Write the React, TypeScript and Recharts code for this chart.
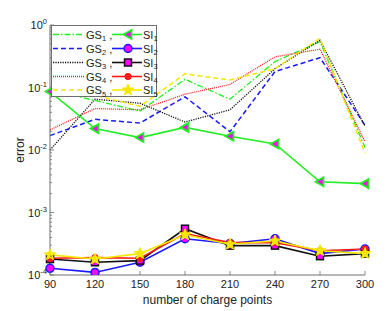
import React from 'react';
import { LineChart, Line, XAxis, YAxis } from 'recharts';

const chargePoints = [90, 120, 150, 180, 210, 240, 270, 300];
const gs1 = [0.09, 0.062, 0.042, 0.135, 0.065, 0.26, 0.54, 0.011];
const gs2 = [0.017, 0.031, 0.027, 0.071, 0.0196, 0.18, 0.3, 0.025];
const gs3 = [0.01, 0.065, 0.056, 0.028, 0.044, 0.2, 0.57, 0.024];
const gs4 = [0.021, 0.046, 0.044, 0.078, 0.112, 0.31, 0.41, 0.0135];
const gs5 = [0.1, 0.075, 0.05, 0.165, 0.132, 0.2, 0.61, 0.0089];
const si1 = [0.086, 0.022, 0.0158, 0.023, 0.0166, 0.0125, 0.0031, 0.0029];
const si2 = [0.000128, 0.00011, 0.00016, 0.00038, 0.00032, 0.00038, 0.00022, 0.00026];
const si3 = [0.00018, 0.00016, 0.00017, 0.00055, 0.000295, 0.000295, 0.0002, 0.00022];
const si4 = [0.000185, 0.00019, 0.000185, 0.00046, 0.00033, 0.00033, 0.000245, 0.00026];
const si5 = [0.00021, 0.00018, 0.00022, 0.00044, 0.00031, 0.00035, 0.000245, 0.00022];

const majorTicks = [1e-4, 1e-3, 1e-2, 1e-1, 1];
const minorTicks: number[] = [];
[-4, -3, -2, -1].forEach((d) => {
  for (let k = 2; k <= 9; k++) minorTicks.push(k * Math.pow(10, d));
});
const yTicks = [...majorTicks, ...minorTicks].sort((a, b) => a - b);

const data = chargePoints.map((x, i) => ({
  x,
  gs1: gs1[i], gs2: gs2[i], gs3: gs3[i], gs4: gs4[i], gs5: gs5[i],
  si1: si1[i], si2: si2[i], si3: si3[i], si4: si4[i], si5: si5[i],
}));

const GREEN = '#22ee22';
const BLUE = '#1a1aff';
const BLACK = '#111111';
const RED = '#ff1a1a';
const YELLOW = '#f5e800';
const MAGENTA = '#ff00ff';
const AXIS = '#6e6e6e';
const FONT = 'Liberation Sans, Arial, Helvetica, sans-serif';

type MarkerKind = 'triL' | 'circ' | 'sq' | 'dot' | 'star';

function Marker({ kind, cx, cy }: { kind: MarkerKind; cx: number; cy: number }) {
  if (cx == null || cy == null || isNaN(cx) || isNaN(cy)) return <g />;
  if (kind === 'triL') {
    return (
      <polygon
        points={`${cx - 4.5},${cy} ${cx + 3.5},${cy - 4.5} ${cx + 3.5},${cy + 4.5}`}
        fill={MAGENTA}
        stroke={GREEN}
        strokeWidth={1.8}
      />
    );
  }
  if (kind === 'circ') {
    return <circle cx={cx} cy={cy} r={4} fill={MAGENTA} stroke={BLUE} strokeWidth={1.5} />;
  }
  if (kind === 'sq') {
    return <rect x={cx - 3.5} y={cy - 3.5} width={7} height={7} fill={MAGENTA} stroke={BLACK} strokeWidth={1.5} />;
  }
  if (kind === 'dot') {
    return <circle cx={cx} cy={cy} r={3.2} fill={RED} stroke={RED} strokeWidth={1} />;
  }
  const pts: string[] = [];
  for (let i = 0; i < 10; i++) {
    const r = i % 2 === 0 ? 6 : 2.6;
    const a = -Math.PI / 2 + (i * Math.PI) / 5;
    pts.push(`${cx + r * Math.cos(a)},${cy + r * Math.sin(a)}`);
  }
  return <polygon points={pts.join(' ')} fill={YELLOW} stroke={YELLOW} strokeWidth={1} />;
}

const gsSeries = [
  { key: 'gs1', color: GREEN, dash: '6 2 1.5 2', width: 1.3 },
  { key: 'gs2', color: BLUE, dash: '5 3', width: 1.5 },
  { key: 'gs3', color: BLACK, dash: '1.2 1.2', width: 1.3 },
  { key: 'gs4', color: RED, dash: '1 1', width: 1.3 },
  { key: 'gs5', color: YELLOW, dash: '5 3', width: 1.5 },
];
const siSeries: { key: string; color: string; marker: MarkerKind }[] = [
  { key: 'si1', color: GREEN, marker: 'triL' },
  { key: 'si2', color: BLUE, marker: 'circ' },
  { key: 'si3', color: BLACK, marker: 'sq' },
  { key: 'si4', color: RED, marker: 'dot' },
  { key: 'si5', color: YELLOW, marker: 'star' },
];

const LeftTick = (props: any) => {
  const { x, y, payload } = props;
  const v = payload.value;
  const exp = Math.round(Math.log10(v));
  const isMajor = Math.abs(Math.log10(v) - exp) < 1e-6;
  return (
    <g>
      <line x1={x} x2={x + (isMajor ? 4 : 2)} y1={y} y2={y} stroke={AXIS} strokeWidth={0.8} />
      {isMajor && (
        <text x={x - 3} y={y + 4} textAnchor="end" fontSize={11} fill="#222" fontFamily={FONT}>
          10
          <tspan fontSize={7.5} dy={-5}>{exp}</tspan>
        </text>
      )}
    </g>
  );
};

const RightTick = (props: any) => {
  const { x, y, payload } = props;
  const v = payload.value;
  const exp = Math.round(Math.log10(v));
  const isMajor = Math.abs(Math.log10(v) - exp) < 1e-6;
  return <line x1={x} x2={x - (isMajor ? 4 : 2)} y1={y} y2={y} stroke={AXIS} strokeWidth={0.8} />;
};

const BottomTick = (props: any) => {
  const { x, y, payload } = props;
  return (
    <g>
      <line x1={x} x2={x} y1={y} y2={y - 4} stroke={AXIS} strokeWidth={0.8} />
      <text x={x} y={y + 13} textAnchor="middle" fontSize={11} fill="#222" fontFamily={FONT}>
        {payload.value}
      </text>
    </g>
  );
};

const TopTick = (props: any) => {
  const { x, y } = props;
  return <line x1={x} x2={x} y1={y} y2={y + 4} stroke={AXIS} strokeWidth={0.8} />;
};

const LegendBox = () => {
  const rowY = [9.5, 23.5, 37.5, 51.5, 65];
  return (
    <svg width={106} height={78} style={{ display: 'block', overflow: 'visible' }}>
      <rect x={0.5} y={0.5} width={105} height={71} fill="#fff" stroke={AXIS} strokeWidth={1} />
      {gsSeries.map((s, i) => (
        <g key={s.key}>
          <line x1={2} x2={33} y1={rowY[i]} y2={rowY[i]} stroke={s.color} strokeWidth={s.width} strokeDasharray={s.dash} />
          <text x={35} y={rowY[i] + 4} fontSize={11} fill="#222" fontFamily={FONT}>
            GS<tspan fontSize={7.5} dy={2.5}>{i + 1}</tspan>
            <tspan dy={-2.5}> ,</tspan>
          </text>
        </g>
      ))}
      {siSeries.map((s, i) => (
        <g key={s.key}>
          <line x1={61} x2={91} y1={rowY[i]} y2={rowY[i]} stroke={s.color} strokeWidth={1.6} />
          <Marker kind={s.marker} cx={77} cy={rowY[i]} />
          <text x={92} y={rowY[i] + 4} fontSize={11} fill="#222" fontFamily={FONT}>
            SI<tspan fontSize={7.5} dy={2.5}>{i + 1}</tspan>
          </text>
        </g>
      ))}
    </svg>
  );
};

export default function App() {
  return (
    <div style={{ position: 'absolute', left: 0, top: 0, width: 386, height: 311, background: '#fff' }}>
      <LineChart width={386} height={311} data={data} margin={{ top: 25, right: 21, bottom: 0, left: 0 }}>
        <XAxis
          xAxisId="b"
          dataKey="x"
          type="number"
          domain={[90, 300]}
          ticks={chargePoints}
          interval={0}
          height={36}
          tickSize={0}
          tickMargin={0}
          tick={<BottomTick />}
          axisLine={{ stroke: AXIS, strokeWidth: 1 }}
          label={{
            value: 'number of charge points',
            position: 'insideBottom',
            offset: 7,
            fontSize: 12,
            fill: '#222',
            fontFamily: FONT,
          }}
        />
        <XAxis
          xAxisId="t"
          orientation="top"
          dataKey="x"
          type="number"
          domain={[90, 300]}
          ticks={chargePoints}
          interval={0}
          height={0}
          tickSize={0}
          tickMargin={0}
          tick={<TopTick />}
          axisLine={{ stroke: AXIS, strokeWidth: 1 }}
        />
        <YAxis
          yAxisId="l"
          type="number"
          scale="log"
          domain={[1e-4, 1]}
          allowDataOverflow
          ticks={yTicks}
          interval={0}
          width={50}
          tickSize={0}
          tickMargin={0}
          tick={<LeftTick />}
          axisLine={{ stroke: AXIS, strokeWidth: 1 }}
          label={{
            content: (p: any) => {
              const vb = p.viewBox || {};
              const cx = (vb.x || 0) + 20;
              const cy = (vb.y || 0) + (vb.height || 0) / 2;
              return (
                <text
                  x={cx}
                  y={cy}
                  transform={`rotate(-90, ${cx}, ${cy})`}
                  textAnchor="middle"
                  dominantBaseline="central"
                  fontSize={12}
                  fill="#222"
                  fontFamily={FONT}
                >
                  error
                </text>
              );
            },
          }}
        />
        <YAxis
          yAxisId="r"
          orientation="right"
          type="number"
          scale="log"
          domain={[1e-4, 1]}
          allowDataOverflow
          ticks={yTicks}
          interval={0}
          width={0}
          tickSize={0}
          tickMargin={0}
          tick={<RightTick />}
          axisLine={{ stroke: AXIS, strokeWidth: 1 }}
        />
        {gsSeries.map((s) => (
          <Line
            key={s.key}
            xAxisId="b"
            yAxisId="l"
            dataKey={s.key}
            stroke={s.color}
            strokeWidth={s.width}
            strokeDasharray={s.dash}
            dot={false}
            activeDot={false}
            isAnimationActive={false}
            type="linear"
          />
        ))}
        {siSeries.map((s) => (
          <Line
            key={s.key}
            xAxisId="b"
            yAxisId="l"
            dataKey={s.key}
            stroke={s.color}
            strokeWidth={1.6}
            dot={(p: any) => <Marker key={`${s.key}-${p.index}`} kind={s.marker} cx={p.cx} cy={p.cy} />}
            activeDot={false}
            isAnimationActive={false}
            type="linear"
          />
        ))}
      </LineChart>
      <div style={{ position: 'absolute', left: 51, top: 25, width: 106, height: 78, zIndex: 10 }}>
        <LegendBox />
      </div>
    </div>
  );
}
